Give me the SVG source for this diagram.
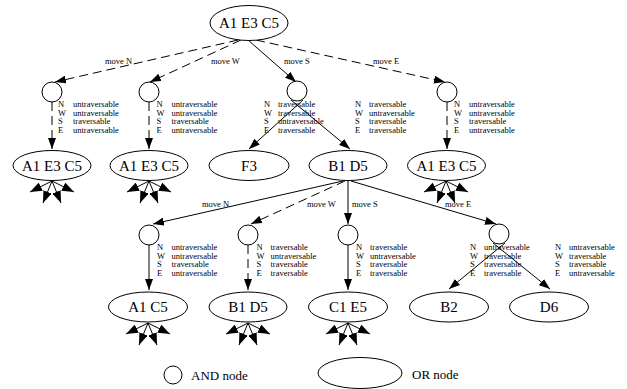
<svg xmlns="http://www.w3.org/2000/svg" width="627" height="389" viewBox="0 0 627 389">
<style>
.n{fill:#fff;stroke:#000;stroke-width:1}
.t{font-family:"Liberation Serif","Times New Roman",serif;font-size:15px;text-anchor:middle;fill:#000}
.s{font-family:"Liberation Serif","Times New Roman",serif;font-size:8.5px;fill:#000}
.lg{font-family:"Liberation Serif","Times New Roman",serif;font-size:13px;fill:#000}
.e{fill:none;stroke:#000;stroke-width:1;marker-end:url(#ah)}
.st{fill:none;stroke:#000;stroke-width:1;marker-end:url(#sh)}
.d{stroke-dasharray:9,5}
</style>
<defs>
<marker id="ah" viewBox="0 0 11 8" refX="11" refY="4" markerWidth="11" markerHeight="8" markerUnits="userSpaceOnUse" orient="auto"><path d="M0,0 L11,4 L0,8z" fill="#000"/></marker>
<marker id="sh" viewBox="0 0 12 9" refX="12" refY="4.5" markerWidth="12" markerHeight="9" markerUnits="userSpaceOnUse" orient="auto"><path d="M0,0 L12,4.5 L0,9z" fill="#000"/></marker>
</defs>
<rect width="627" height="389" fill="#fff"/>
<g id="connectors">
<path class="e d" d="M238,40 L55,82"/>
<path class="e d" d="M241,40 L150,82"/>
<path class="e" d="M248,40 L296,82"/>
<path class="e d" d="M256,40 L445,82"/>
<text class="s" x="105" y="64">move N</text>
<text class="s" x="211" y="64">move W</text>
<text class="s" x="284" y="64">move S</text>
<text class="s" x="373" y="64">move E</text>
<path class="e d" d="M52,102 L52,149"/>
<path class="e d" d="M149,102 L149,149"/>
<path class="e" d="M303,100 L249,149"/>
<path class="e" d="M291,100 L350,149"/>
<path class="e d" d="M447,102 L447,149"/>
<path class="e" d="M343,181 L153,224"/>
<path class="e d" d="M345,181 L251,224"/>
<path class="e" d="M348,181 L348,224"/>
<path class="e" d="M351,181 L496,224"/>
<text class="s" x="202" y="207">move N</text>
<text class="s" x="307" y="207">move W</text>
<text class="s" x="352" y="207">move S</text>
<text class="s" x="445" y="207">move E</text>
<path class="e" d="M149,245 L149,290"/>
<path class="e d" d="M248,245 L248,290"/>
<path class="e" d="M348,245 L348,290"/>
<path class="e" d="M505,243 L449,289"/>
<path class="e" d="M493,243 L550,289"/>
<g id="star1"><path class="st" d="M52,181 l-22,11"/><path class="st" d="M52,181 l-9,22"/><path class="st" d="M52,181 l9,22"/><path class="st" d="M52,181 l22,11"/></g>
<g id="star2"><path class="st" d="M149,181 l-22,11"/><path class="st" d="M149,181 l-9,22"/><path class="st" d="M149,181 l9,22"/><path class="st" d="M149,181 l22,11"/></g>
<g id="star3"><path class="st" d="M446,181 l-22,11"/><path class="st" d="M446,181 l-9,22"/><path class="st" d="M446,181 l9,22"/><path class="st" d="M446,181 l22,11"/></g>
<g id="star4"><path class="st" d="M148,323 l-22,11"/><path class="st" d="M148,323 l-9,22"/><path class="st" d="M148,323 l9,22"/><path class="st" d="M148,323 l22,11"/></g>
<g id="star5"><path class="st" d="M248,323 l-22,11"/><path class="st" d="M248,323 l-9,22"/><path class="st" d="M248,323 l9,22"/><path class="st" d="M248,323 l22,11"/></g>
<g id="star6"><path class="st" d="M348,323 l-22,11"/><path class="st" d="M348,323 l-9,22"/><path class="st" d="M348,323 l9,22"/><path class="st" d="M348,323 l22,11"/></g>
<g class="s">
<text x="58" y="107">N</text><text x="58" y="115.5">W</text><text x="58" y="124">S</text><text x="58" y="132.5">E</text>
<text x="73" y="107">untraversable</text><text x="73" y="115.5">untraversable</text><text x="73" y="124">traversable</text><text x="73" y="132.5">untraversable</text>
<text x="156.5" y="107">N</text><text x="156.5" y="115.5">W</text><text x="156.5" y="124">S</text><text x="156.5" y="132.5">E</text>
<text x="171.5" y="107">untraversable</text><text x="171.5" y="115.5">untraversable</text><text x="171.5" y="124">traversable</text><text x="171.5" y="132.5">untraversable</text>
<text x="264" y="107">N</text><text x="264" y="115.5">W</text><text x="264" y="124">S</text><text x="264" y="132.5">E</text>
<text x="278" y="107">traversable</text><text x="278" y="115.5">traversable</text><text x="278" y="124">untraversable</text><text x="278" y="132.5">traversable</text>
<text x="355" y="107">N</text><text x="355" y="115.5">W</text><text x="355" y="124">S</text><text x="355" y="132.5">E</text>
<text x="369" y="107">traversable</text><text x="369" y="115.5">untraversable</text><text x="369" y="124">traversable</text><text x="369" y="132.5">traversable</text>
<text x="454" y="107">N</text><text x="454" y="115.5">W</text><text x="454" y="124">S</text><text x="454" y="132.5">E</text>
<text x="469" y="107">untraversable</text><text x="469" y="115.5">untraversable</text><text x="469" y="124">traversable</text><text x="469" y="132.5">untraversable</text>
<text x="157" y="250">N</text><text x="157" y="258.5">W</text><text x="157" y="267">S</text><text x="157" y="275.5">E</text>
<text x="171.5" y="250">untraversable</text><text x="171.5" y="258.5">untraversable</text><text x="171.5" y="267">traversable</text><text x="171.5" y="275.5">untraversable</text>
<text x="256.5" y="250">N</text><text x="256.5" y="258.5">W</text><text x="256.5" y="267">S</text><text x="256.5" y="275.5">E</text>
<text x="270.5" y="250">traversable</text><text x="270.5" y="258.5">untraversable</text><text x="270.5" y="267">traversable</text><text x="270.5" y="275.5">traversable</text>
<text x="356" y="250">N</text><text x="356" y="258.5">W</text><text x="356" y="267">S</text><text x="356" y="275.5">E</text>
<text x="370" y="250">traversable</text><text x="370" y="258.5">untraversable</text><text x="370" y="267">traversable</text><text x="370" y="275.5">traversable</text>
<text x="470" y="250">N</text><text x="470" y="258.5">W</text><text x="470" y="267">S</text><text x="470" y="275.5">E</text>
<text x="484" y="250">untraversable</text><text x="484" y="258.5">traversable</text><text x="484" y="267">traversable</text><text x="484" y="275.5">traversable</text>
<text x="555" y="250">N</text><text x="555" y="258.5">W</text><text x="555" y="267">S</text><text x="555" y="275.5">E</text>
<text x="569" y="250">untraversable</text><text x="569" y="258.5">traversable</text><text x="569" y="267">traversable</text><text x="569" y="275.5">untraversable</text>
</g>
</g>
<g id="or_top"><ellipse class="n" cx="249" cy="23" rx="39" ry="17.5"/><text class="t" x="249" y="28">A1 E3 C5</text></g>
<g id="or_r2_1"><ellipse class="n" cx="52" cy="165.5" rx="39" ry="15"/><text class="t" x="52" y="170.5">A1 E3 C5</text></g>
<g id="or_r2_2"><ellipse class="n" cx="149" cy="165.5" rx="39" ry="15"/><text class="t" x="149" y="170.5">A1 E3 C5</text></g>
<g id="or_r2_3"><ellipse class="n" cx="249" cy="165.5" rx="40" ry="15"/><text class="t" x="249" y="170.5">F3</text></g>
<g id="or_r2_4"><ellipse class="n" cx="348" cy="165.5" rx="39" ry="15"/><text class="t" x="348" y="170.5">B1 D5</text></g>
<g id="or_r2_5"><ellipse class="n" cx="446.5" cy="165.5" rx="39" ry="15"/><text class="t" x="446.5" y="170.5">A1 E3 C5</text></g>
<g id="or_r4_1"><ellipse class="n" cx="148" cy="307" rx="39.5" ry="15"/><text class="t" x="148" y="312">A1 C5</text></g>
<g id="or_r4_2"><ellipse class="n" cx="248" cy="307" rx="39" ry="15"/><text class="t" x="248" y="312">B1 D5</text></g>
<g id="or_r4_3"><ellipse class="n" cx="348" cy="307" rx="39.5" ry="15"/><text class="t" x="348" y="312">C1 E5</text></g>
<g id="or_r4_4"><ellipse class="n" cx="449" cy="307" rx="39.5" ry="15"/><text class="t" x="449" y="312">B2</text></g>
<g id="or_r4_5"><ellipse class="n" cx="549" cy="307" rx="39.5" ry="15"/><text class="t" x="549" y="312">D6</text></g>
<g id="and_r1_1"><circle class="n" cx="52" cy="92" r="10"/></g>
<g id="and_r1_2"><circle class="n" cx="149" cy="92" r="10"/></g>
<g id="and_r1_3"><circle class="n" cx="297" cy="91" r="10"/></g>
<g id="and_r1_4"><circle class="n" cx="447" cy="92" r="10"/></g>
<g id="and_r3_1"><circle class="n" cx="149" cy="235" r="10"/></g>
<g id="and_r3_2"><circle class="n" cx="248" cy="235" r="10"/></g>
<g id="and_r3_3"><circle class="n" cx="348" cy="235" r="10"/></g>
<g id="and_r3_4"><circle class="n" cx="499" cy="234" r="10"/></g>
<g id="legend_and"><circle class="n" cx="173" cy="375" r="9"/><text class="lg" x="191" y="380">AND node</text></g>
<g id="legend_or"><ellipse class="n" cx="360" cy="373" rx="42" ry="15.5"/><text class="lg" x="412" y="379">OR node</text></g>
</svg>
